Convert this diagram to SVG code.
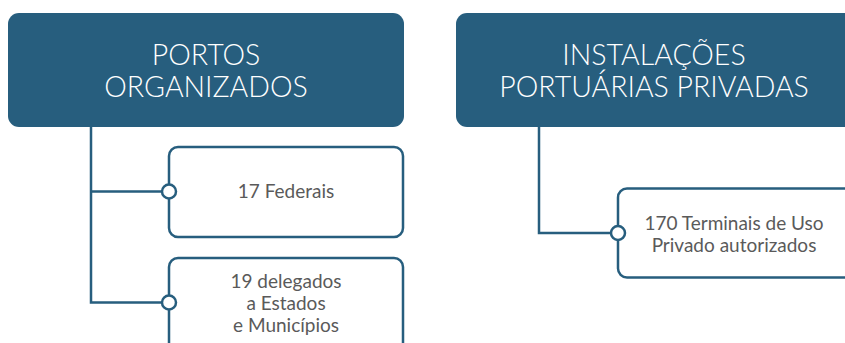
<svg xmlns="http://www.w3.org/2000/svg" width="845" height="343" viewBox="0 0 845 343">
<style>
.head{fill:#275e7e}
.htxt{fill:#ffffff;font-family:"Lato","Noto Sans",sans-serif;font-size:28.5px;font-weight:300;text-anchor:middle}
.child{fill:#ffffff;stroke:#275e7e;stroke-width:2.5}
.ctxt{fill:#5a5a5a;font-family:"Lato","Noto Sans",sans-serif;font-size:19px;text-anchor:middle}
.conn{fill:none;stroke:#275e7e;stroke-width:2.5}
.dot{fill:#ffffff;stroke:#275e7e;stroke-width:2.5}
</style>
<rect width="845" height="343" fill="#ffffff"/>
<g id="connectors">
<path class="conn" d="M91,127 V302.5 H169 M91,191.5 H169"/>
<path class="conn" d="M539,127 V233 H618"/>
</g>
<g id="portos-organizados">
<rect class="head" x="8" y="13" width="396" height="114" rx="11"/>
<text class="htxt" x="206" y="65">PORTOS</text>
<text class="htxt" x="206" y="97">ORGANIZADOS</text>
</g>
<g id="instalacoes">
<rect class="head" x="456" y="13" width="400" height="114" rx="11"/>
<text class="htxt" x="654" y="65">INSTALAÇÕES</text>
<text class="htxt" x="654" y="97">PORTUÁRIAS PRIVADAS</text>
</g>
<g id="federais">
<rect class="child" x="169" y="147" width="234" height="90" rx="9"/>
<circle class="dot" cx="169" cy="191.5" r="7"/>
<text class="ctxt" x="286" y="198">17 Federais</text>
</g>
<g id="delegados">
<rect class="child" x="169" y="258" width="234" height="100" rx="9"/>
<circle class="dot" cx="169" cy="302.5" r="7"/>
<text class="ctxt" x="286" y="288">19 delegados</text>
<text class="ctxt" x="286" y="310">a Estados</text>
<text class="ctxt" x="286" y="332">e Municípios</text>
</g>
<g id="terminais">
<rect class="child" x="618" y="188.5" width="240" height="89" rx="9"/>
<circle class="dot" cx="618" cy="233" r="7"/>
<text class="ctxt" x="734" y="230">170 Terminais de Uso</text>
<text class="ctxt" x="734" y="252">Privado autorizados</text>
</g>
</svg>
